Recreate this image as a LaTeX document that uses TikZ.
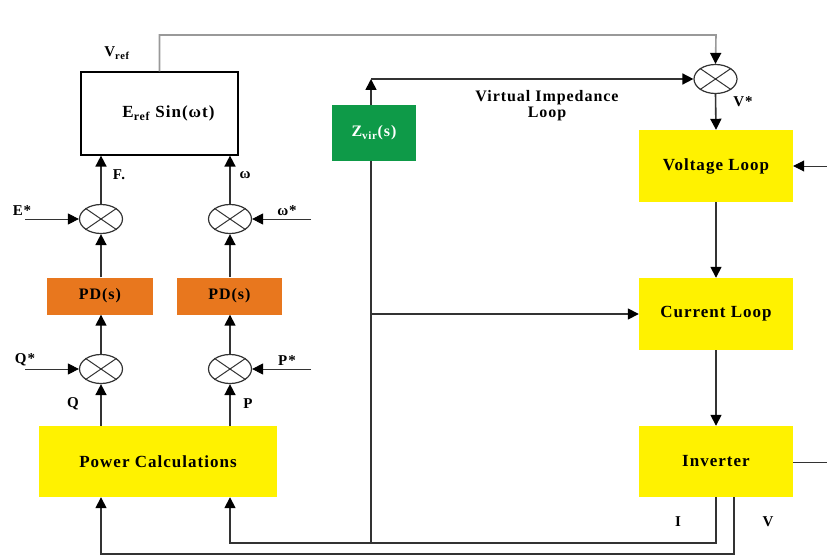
\documentclass[tikz,border=0pt]{standalone}
\usepackage{fontspec}
\setmainfont{Liberation Serif}[LetterSpace=6]
\usetikzlibrary{arrows.meta,shapes.geometric}
\definecolor{yel}{HTML}{FFF200}
\definecolor{org}{HTML}{E8771E}
\definecolor{grn}{HTML}{0E9A48}
\definecolor{ln}{HTML}{333333}
\tikzset{
  blk/.style={rectangle,inner sep=0pt,font=\fontsize{17}{19}\selectfont\bfseries},
  ybox/.style={blk,fill=yel,minimum width=154pt,minimum height=72pt},
  obox/.style={blk,fill=org,minimum width=106pt,minimum height=37pt,font=\fontsize{16}{18}\selectfont\bfseries},
  sumj/.style={ellipse,draw=ln,line width=1.2pt,fill=white,minimum width=43pt,minimum height=29pt,inner sep=0pt},
  wire/.style={draw=ln,line width=1.6pt},
  thin/.style={draw=ln,line width=0.9pt},
  arr/.style={-{Triangle[length=11pt,width=11pt,color=black]}},
  lab/.style={font=\fontsize{15}{17}\selectfont\bfseries,inner sep=0pt}
}
\begin{document}
\begin{tikzpicture}[x=1pt,y=-1pt]
\useasboundingbox (0,0) rectangle (827,556);
% nodes
\node[blk,draw=black,line width=1.2pt,fill=white,minimum width=157pt,minimum height=83pt] (eref) at (159.5,113.5) {\hspace*{18pt}E\textsubscript{ref} Sin(ωt)};
\node[sumj] (sE) at (101,219) {};
\node[sumj] (sW) at (230,219) {};
\node[sumj] (sQ) at (101,369) {};
\node[sumj] (sP) at (230,369) {};
\node[sumj] (sV) at (715.5,79) {};
\foreach \s in {sE,sW,sQ,sP,sV}{
  \draw[ln,line width=1pt] (\s.north east) -- (\s.south west) (\s.north west) -- (\s.south east);
}
\node[obox] (pd1) at (100,296) {PD(s)};
\node[obox,minimum width=105pt] (pd2) at (229.5,296) {PD(s)};
\node[ybox,minimum width=238pt,minimum height=71pt] (pc) at (158,461.5) {Power Calculations};
\node[ybox] (vl) at (716,166) {Voltage Loop};
\node[ybox] (cl) at (716,314) {Current Loop};
\node[ybox,minimum height=71pt] (inv) at (716,461.5) {Inverter};

% coordinates
\coordinate (zb) at (371,543);
\coordinate (zt) at (371,79);
\coordinate (zm) at (371,314);
\coordinate (topr) at (716,35);
\coordinate (einL) at (25,219);
\coordinate (winR) at (311,219);
\coordinate (qinL) at (25,369);
\coordinate (pinR) at (311,369);
\coordinate (vin) at (827,166);
\coordinate (vout) at (827,462);
\coordinate (iT) at (716,497);
\coordinate (vT) at (734,497);

% virtual impedance branch
\draw[wire,arr] (zb) -- (zt);
\draw[wire,arr] (zt) -- (sV.west);
\draw[wire,arr] (zm) -- (cl.west);
\node[blk,fill=grn,text=white,minimum width=84pt,minimum height=56pt,font=\fontsize{16}{18}\selectfont\bfseries] (zv) at (374,133) {Z\textsubscript{vir}(s)};
\node[lab,align=center,font=\fontsize{16}{16}\selectfont\bfseries] (vil) at (547,106) {Virtual Impedance\\Loop};

% reference line
\draw[draw=black!40,line width=1.6pt,arr] (eref.north) |- (topr) -- (sV.north);

% right chain
\draw[wire,arr] (sV.south) -- (vl.north);
\draw[wire,arr] (vl.south) -- (cl.north);
\draw[wire,arr] (cl.south) -- (inv.north);
\draw[thin,arr] (vin) -- (vl.east);
\draw[thin] (inv.east |- vout) -- (vout);

% feedback
\draw[wire,arr] (iT) |- (zb) -| (pc.south -| sP);
\draw[wire,arr] (vT) |- (101,554) -- (pc.south -| sQ);

% left chains
\draw[wire,arr] (pc.north -| sQ) -- (sQ.south);
\draw[wire,arr] (pc.north -| sP) -- (sP.south);
\draw[wire,arr] (sQ.north) -- (pd1.south -| sQ);
\draw[wire,arr] (sP.north) -- (pd2.south -| sP);
\draw[wire,arr] (pd1.north -| sE) -- (sE.south);
\draw[wire,arr] (pd2.north -| sW) -- (sW.south);
\draw[wire,arr] (sE.north) -- (eref.south -| sE);
\draw[wire,arr] (sW.north) -- (eref.south -| sW);
\draw[thin,arr] (einL) -- (sE.west);
\draw[thin,arr] (winR) -- (sW.east);
\draw[thin,arr] (qinL) -- (sQ.west);
\draw[thin,arr] (pinR) -- (sP.east);

% labels
\node[lab] (lvref) at (117,53) {V\textsubscript{ref}};
\node[lab] (lE) at (119,175) {F.};
\node[lab] (lw) at (245,175) {ω};
\node[lab] (lEs) at (22,211) {E*};
\node[lab] (lws) at (287,211) {ω*};
\node[lab] (lQs) at (25,360) {Q*};
\node[lab] (lPs) at (287,361) {P*};
\node[lab] (lQ) at (73,404) {Q};
\node[lab] (lP) at (248,404) {P};
\node[lab] (lVs) at (743,102) {V*};
\node[lab] (lI) at (678,522) {I};
\node[lab] (lV) at (768,522) {V};
\end{tikzpicture}
\end{document}
